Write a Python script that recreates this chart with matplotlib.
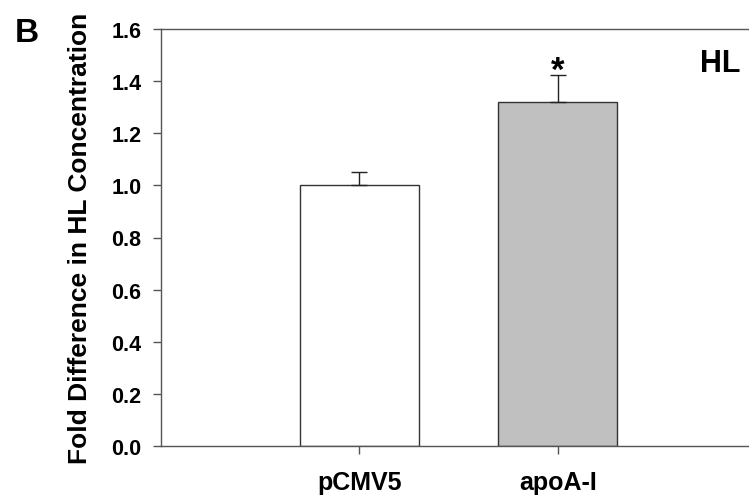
import matplotlib.pyplot as plt
import numpy as np

plt.rcParams['font.family'] = ['Liberation Sans', 'DejaVu Sans']
plt.rcParams['font.weight'] = 'bold'

groups = ['pCMV5', 'apoA-I']
fold_diff = [1.00, 1.32]
sem_up = [0.052, 0.105]
bar_colors = ['white', '#c0c0c0']
yticks = [0.0, 0.2, 0.4, 0.6, 0.8, 1.0, 1.2, 1.4, 1.6]

fig = plt.figure(figsize=(7.49, 5.02), dpi=100)
ax = fig.add_axes([161 / 749, 55 / 502, 595 / 749, 417 / 502])

x = np.arange(len(groups))
ax.bar(x, fold_diff, width=0.6, color=bar_colors, edgecolor='#333333',
       linewidth=1.0, zorder=2)
ax.errorbar(x, fold_diff, yerr=[np.zeros(len(x)), sem_up], fmt='none',
            ecolor='#222222', elinewidth=1.0, capsize=5.5, capthick=1.0,
            zorder=3)

# significance star above apoA-I
ax.annotate('*', xy=(x[1], fold_diff[1] + sem_up[1]), xytext=(0, -4),
            textcoords='offset points', ha='center', va='baseline',
            fontsize=25, fontweight='bold')

ax.set_xlim(-1.0, 2.0)
ax.set_ylim(0, 1.6)
ax.set_yticks(yticks)
ax.set_yticklabels(['%.1f' % t for t in yticks])
ax.set_xticks(x)
ax.set_xticklabels(groups)

for s in ax.spines.values():
    s.set_color('#555555')
    s.set_linewidth(1.0)

ax.tick_params(axis='y', direction='out', length=6, width=1, color='#555555',
               pad=8, labelsize=15.5)
ax.tick_params(axis='x', direction='out', length=6, width=1, color='#555555',
               pad=11, labelsize=18)

ax.text(-0.136, 0.5, 'Fold Difference in HL Concentration', rotation=90,
        ha='center', va='center', fontsize=19, fontweight='bold',
        transform=ax.transAxes)

fig.text(700 / 749, 1 - 72 / 502, 'HL', ha='left', va='baseline',
         fontsize=22, fontweight='bold')
fig.text(15 / 749, 1 - 42 / 502, 'B', ha='left', va='baseline',
         fontsize=24, fontweight='bold')

plt.savefig('out.png', dpi=100)
